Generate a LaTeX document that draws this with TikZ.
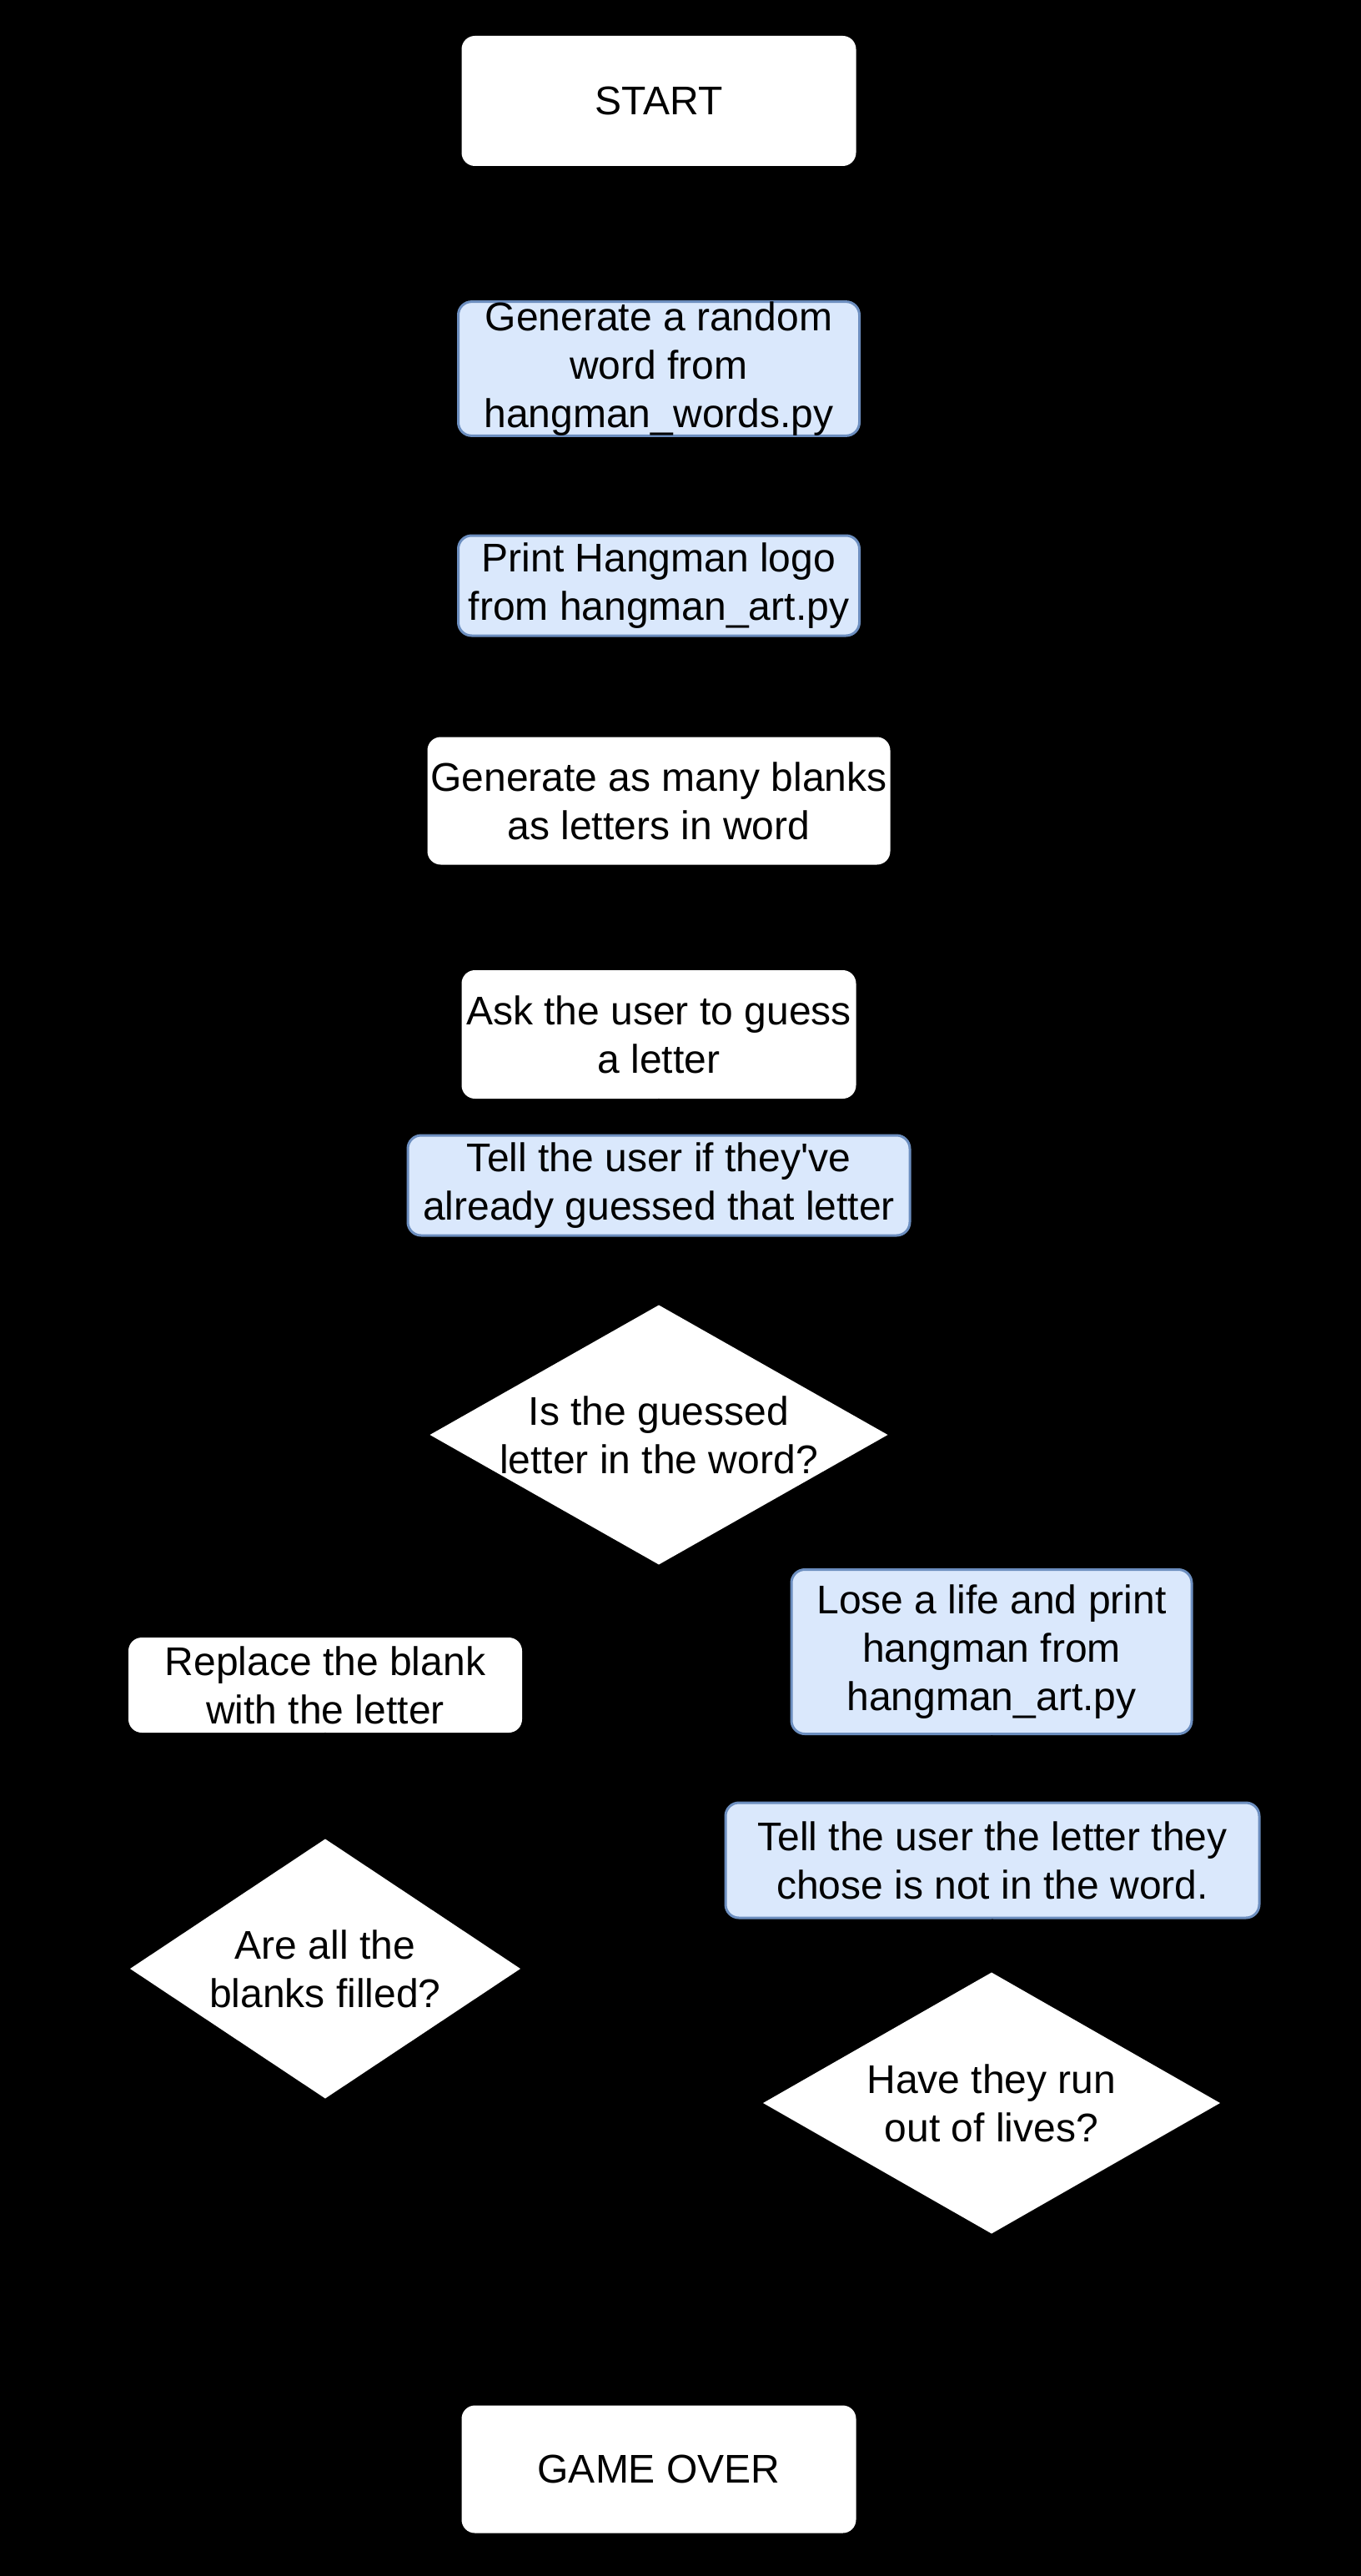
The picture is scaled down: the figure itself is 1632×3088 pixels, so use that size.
\documentclass[tikz,border=0pt]{standalone}
\usepackage{fontspec}
\setmainfont{Liberation Sans}
\usetikzlibrary{arrows.meta}
\definecolor{boxfill}{HTML}{DAE8FC}
\definecolor{boxline}{HTML}{6C8EBF}
\begin{document}
\begin{tikzpicture}
[
  x=0.5pt, y=-0.5pt,
  every node/.style = {font=\fontsize{24}{29}\selectfont, align=center, inner sep=0pt},
  plain/.style = {fill=white, rounded corners=8pt},
  pybox/.style = {draw=boxline, line width=1.5pt, fill=boxfill, rounded corners=8pt},
  choice/.style = {path picture={\fill[white] (path picture bounding box.north)
      -- (path picture bounding box.east) -- (path picture bounding box.south)
      -- (path picture bounding box.west) -- cycle;}},
  flow/.style = {-{Latex}, black, line width=1pt},
]

%background
\fill[black] (0,0) rectangle (1632,3088);

%main column
\node[plain, minimum width=236.5pt, minimum height=78pt] (start) at (790,121) {START};
\node[pybox, minimum width=240.5pt, minimum height=80pt] (gen) at (790,442)
  {Generate a random\\ word from\\ hangman\_words.py};
\node[pybox, minimum width=240.5pt, minimum height=60pt] (logo) at (790,702)
  {Print Hangman logo\\ from hangman\_art.py};
\node[plain, minimum width=277.5pt, minimum height=76.5pt] (blanks) at (790,960)
  {Generate as many blanks\\ as letters in word};
\node[plain, minimum width=236.5pt, minimum height=77pt] (ask) at (790,1240)
  {Ask the user to guess\\ a letter};
\node[pybox, minimum width=301pt, minimum height=60pt] (told) at (790,1421)
  {Tell the user if they\textquotesingle ve\\ already guessed that letter};
\node[choice, minimum width=274.5pt, minimum height=155.5pt] (inword) at (790,1720)
  {Is the guessed\\ letter in the word?};

%left branch
\node[plain, minimum width=236pt, minimum height=57pt] (replace) at (390,2020)
  {Replace the blank\\ with the letter};
\node[choice, minimum width=234pt, minimum height=155.5pt] (filled) at (390,2360)
  {Are all the\\ blanks filled?};

%right branch
\node[pybox, minimum width=240pt, minimum height=98.5pt] (lose) at (1189,1980)
  {Lose a life and print\\ hangman from\\ hangman\_art.py};
\node[pybox, minimum width=320pt, minimum height=69pt] (notin) at (1190,2230)
  {Tell the user the letter they\\ chose is not in the word.};
\node[choice, minimum width=274pt, minimum height=156.5pt] (lives) at (1189,2521)
  {Have they run\\ out of lives?};

\node[plain, minimum width=236.5pt, minimum height=76.5pt] (over) at (790,2960) {GAME OVER};

%connectors
\draw[flow] (start) -- (gen);
\draw[flow] (gen) -- (logo);
\draw[flow] (logo) -- (blanks);
\draw[flow] (blanks) -- (ask);
\draw[flow] (ask) -- (told);
\draw[flow] (told) -- (inword);
\draw[flow] (inword.west) -| (replace.north);
\draw[flow] (inword.east) -| (lose.north);
\draw[flow] (replace) -- (filled);
\draw[flow] (lose) -- (notin);
\draw[flow] (notin) -- (lives);
\draw[flow] (filled.south) |- (over.west);
\draw[flow] (lives.south) |- (over.east);
\end{tikzpicture}
\end{document}
